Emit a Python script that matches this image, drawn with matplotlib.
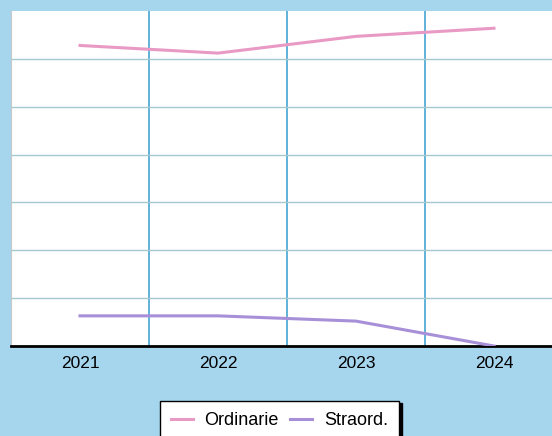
import matplotlib.pyplot as plt
from matplotlib.ticker import FixedLocator

# chart data
years = ["2021", "2022", "2023", "2024"]
ordinarie = [6.28, 6.12, 6.47, 6.64]
straord = [0.63, 0.63, 0.52, 0.0]

plt.rcParams['font.family'] = ['Liberation Sans', 'DejaVu Sans']

fig = plt.figure(figsize=(5.52, 4.36), dpi=100)
fig.patch.set_facecolor("#a6d5ee")

# axes run past the right edge of the picture, like in the reference
ax = fig.add_axes([11 / 552, 90 / 436, 552 / 552, 335 / 436])
ax.set_facecolor("white")

x = list(range(len(years)))
ax.plot(x, ordinarie, color="#e89ac4", lw=2.2, label="Ordinarie", zorder=3)
ax.plot(x, straord, color="#a890d8", lw=2.2, label="Straord.", zorder=3)

ax.set_xlim(-0.5, len(years) - 0.5)
ax.set_ylim(0, 7)

ax.set_xticks(x)
ax.set_xticklabels(years, fontsize=12.5, color="black")
ax.tick_params(axis="x", length=0, pad=7)
ax.set_yticks(range(1, 7))
ax.tick_params(axis="y", length=0, labelleft=False)

# horizontal grid
ax.yaxis.grid(True, color="#a5c8cf", lw=1)
# vertical lines between categories
ax.xaxis.set_minor_locator(FixedLocator([0.5, 1.5, 2.5]))
ax.tick_params(axis="x", which="minor", length=0)
ax.xaxis.grid(True, which="minor", color="#45a6d2", lw=1.2)
ax.set_axisbelow(True)

for s in ["top", "right"]:
    ax.spines[s].set_visible(False)
ax.spines["left"].set_color("#c8c8c8")
ax.spines["bottom"].set_color("black")
ax.spines["bottom"].set_linewidth(2)

leg = fig.legend(loc="lower left", bbox_to_anchor=(160 / 552, -4 / 436), ncol=2,
                 fontsize=13, frameon=True, fancybox=False, handlelength=1.2,
                 handletextpad=0.65, columnspacing=0.65, borderpad=0.6,
                 borderaxespad=0,
                 shadow={"ox": 2.5, "oy": -1, "color": "black", "alpha": 1})
leg.get_frame().set_edgecolor("black")
leg.get_frame().set_linewidth(1)
leg.get_frame().set_facecolor("white")
leg.get_frame().set_alpha(1)

fig.savefig("out.png", dpi=100, facecolor=fig.get_facecolor())
